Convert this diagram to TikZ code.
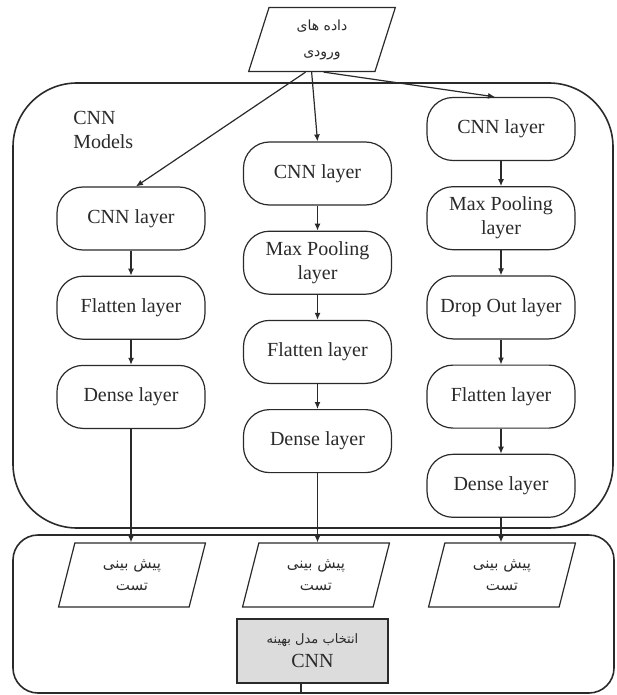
\documentclass[tikz,border=0pt]{standalone}
\usepackage{fontspec}
\setmainfont{Liberation Serif}
\newfontfamily\farsi[Script=Arabic]{DejaVu Sans}
\TeXXeTstate=1
\usepackage{tikz}
\usetikzlibrary{positioning,arrows.meta,shapes.geometric}
\definecolor{gris}{HTML}{DCDCDC}
\definecolor{linea}{HTML}{2A2A2A}

\begin{document}
\begin{tikzpicture}[x=0.5pt, y=-0.5pt, font=\fontsize{10}{12}\selectfont,
  node distance=12.5pt, line width=0.6pt, draw=linea, text=linea,
  layer/.style={draw, rounded corners=13pt, minimum width=74pt, minimum height=31.5pt, align=center, inner sep=2pt},
  io/.style={draw, trapezium, trapezium left angle=77, trapezium right angle=103, trapezium stretches=true,
    minimum width=73.5pt, minimum height=32pt, align=center, font=\farsi\fontsize{7.5}{11}\selectfont},
  arr/.style={-{Latex[length=3.5pt,width=3pt]}}]
  \useasboundingbox (0,0) rectangle (616,695);
  % frames
  \draw[line width=0.8pt, rounded corners=32pt] (13,83) rectangle (613,528);
  \draw[line width=0.8pt, rounded corners=12.5pt] (13,535) rectangle (614,693);
  \node[align=left, anchor=north west] (models) at (66,104) {CNN\\Models};
  % input
  \node[io, font=\farsi\fontsize{7}{11}\selectfont] (input) at (322,39.5) {\beginR داده های\endR\\[2pt]\beginR ورودی\endR};
  % left model
  \node[layer] (cnnL) at (131,218.5) {CNN layer};
  \node[layer, below=of cnnL] (flatL) {Flatten layer};
  \node[layer, below=of flatL] (denseL) {Dense layer};
  % middle model
  \node[layer] (cnnM) at (317.5,173.5) {CNN layer};
  \node[layer, below=of cnnM] (poolM) {Max Pooling\\layer};
  \node[layer, below=of poolM] (flatM) {Flatten layer};
  \node[layer, below=of flatM] (denseM) {Dense layer};
  % right model
  \node[layer] (cnnR) at (501,129) {CNN layer};
  \node[layer, below=of cnnR] (poolR) {Max Pooling\\layer};
  \node[layer, below=of poolR] (dropR) {Drop Out layer};
  \node[layer, below=of dropR] (flatR) {Flatten layer};
  \node[layer, below=of flatR] (denseR) {Dense layer};
  % predictions
  \node[io] (predL) at (132,575) {\beginR پیش بینی\endR\\\beginR تست\endR};
  \node[io] (predM) at (316,575) {\beginR پیش بینی\endR\\\beginR تست\endR};
  \node[io] (predR) at (502,575) {\beginR پیش بینی\endR\\\beginR تست\endR};
  \node[draw, fill=gris, minimum width=75.5pt, minimum height=32pt, align=center] (best) at (312.5,651)
    {{\farsi\fontsize{6.5}{9}\selectfont\beginR انتخاب مدل بهینه\endR}\\CNN};
  \coordinate (fin) at (301,693);
  % connectors
  \draw[arr] ([xshift=-3pt]input.bottom side) -- ([xshift=2.5pt]cnnL.north);
  \draw[arr] (input.bottom side) -- (cnnM.north);
  \draw[arr] ([xshift=6pt]input.bottom side) -- ([xshift=-3pt]cnnR.north);
  \foreach \a/\b in {cnnL/flatL, flatL/denseL, cnnM/poolM, poolM/flatM, flatM/denseM,
    cnnR/poolR, poolR/dropR, dropR/flatR, flatR/denseR}
    \draw[arr] (\a) -- (\b);
  \draw[arr] (denseL) -- (denseL |- predL.north);
  \draw[arr] (denseM) -- (denseM |- predM.north);
  \draw[arr] (denseR) -- (denseR |- predR.north);
  \draw (best.south -| fin) -- (fin);
\end{tikzpicture}
\end{document}
